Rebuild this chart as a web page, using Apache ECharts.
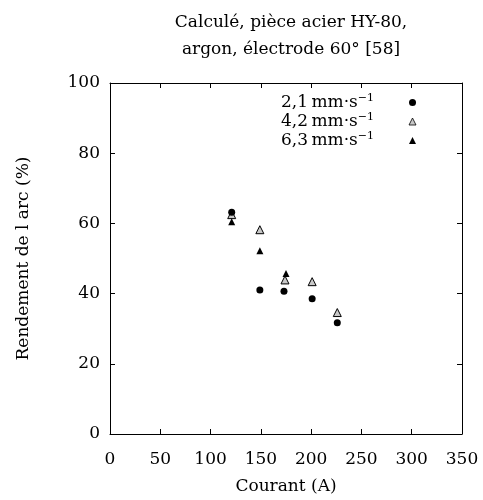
<!DOCTYPE html>
<html>
<head>
<meta charset="utf-8">
<script src="https://cdn.jsdelivr.net/npm/echarts@6/dist/echarts.min.js"></script>
<style>html,body{margin:0;padding:0;background:#fff;}#c{width:483px;height:500px;}</style>
</head>
<body>
<div id="c"></div>
<script>
const titleLines = ['Calculé, pièce acier HY-80,', 'argon, électrode 60° [58]'];
const xLabel = 'Courant (A)';
const yLabel = 'Rendement de l arc (%)';
const seriesNames = ['2,1', '4,2', '6,3'];
const xTicks = [0, 50, 100, 150, 200, 250, 300, 350];
const yTicks = [0, 20, 40, 60, 80, 100];

const s21 = [[121, 63.2], [149, 41.0], [173, 40.7], [201, 38.5], [226, 31.7]];
const s42 = [[121, 62.5], [149, 58.2], [174, 43.9], [201, 43.4], [226, 34.6]];
const s63 = [[121, 60.5], [149, 52.2], [175, 45.7]];

const FONT = 'DejaVu Serif';
const FS = 17;
const chart = echarts.init(document.getElementById('c'));

const axisCommon = {
  axisLine: { show: true, onZero: false, lineStyle: { color: '#000', width: 1 } },
  axisTick: { show: true, inside: true, length: 5, lineStyle: { color: '#000' } },
  splitLine: { show: false }
};

chart.setOption({
  animation: false,
  backgroundColor: '#fff',
  title: {
    text: titleLines.join('\n'),
    left: 286, top: 4, textAlign: 'center',
    textStyle: { fontFamily: FONT, fontWeight: 'normal', fontSize: FS, color: '#000', lineHeight: 27 }
  },
  grid: { left: 110, right: 21, top: 83, bottom: 64, show: false },
  legend: {
    orient: 'vertical', align: 'right',
    left: 276, top: 88,
    itemWidth: 7, itemHeight: 7, itemGap: 1,
    data: [
      { name: seriesNames[0] },
      { name: seriesNames[1], itemStyle: { borderWidth: 0.8 } },
      { name: seriesNames[2] }
    ],
    formatter: n => '{a|' + n + '\u2009mm·s}{s|−1}{g|}',
    textStyle: {
      fontFamily: FONT, color: '#000',
      rich: {
        a: { fontFamily: FONT, fontSize: FS, color: '#000', lineHeight: 19 },
        s: { fontFamily: FONT, fontSize: 11, color: '#000', verticalAlign: 'top', lineHeight: 9 },
        g: { width: 30 }
      }
    }
  },
  xAxis: [
    Object.assign({
      type: 'value', min: 0, max: 350, interval: 50, position: 'bottom',
      name: xLabel, nameLocation: 'middle', nameGap: 44,
      nameTextStyle: { fontFamily: FONT, fontSize: FS, color: '#000' },
      axisLabel: { fontFamily: FONT, fontSize: FS, color: '#000', margin: 17,
        formatter: v => xTicks.includes(v) ? String(v) : '' }
    }, axisCommon),
    Object.assign({
      type: 'value', min: 0, max: 350, interval: 50, position: 'top',
      axisLabel: { show: false }
    }, axisCommon)
  ],
  yAxis: [
    Object.assign({
      type: 'value', min: 0, max: 100, interval: 20, position: 'left',
      name: yLabel, nameLocation: 'middle', nameGap: 78, nameRotate: 90,
      nameTextStyle: { fontFamily: FONT, fontSize: FS, color: '#000' },
      axisLabel: { fontFamily: FONT, fontSize: FS, color: '#000', margin: 10,
        formatter: v => yTicks.includes(v) ? String(v) : '' }
    }, axisCommon),
    Object.assign({
      type: 'value', min: 0, max: 100, interval: 20, position: 'right',
      axisLabel: { show: false }
    }, axisCommon)
  ],
  series: [
    { name: seriesNames[0], type: 'scatter', data: s21, symbol: 'circle', symbolSize: 7, z: 4,
      itemStyle: { color: '#000', opacity: 1 } },
    { name: seriesNames[1], type: 'scatter', data: s42, symbol: 'triangle', symbolSize: 8, z: 3,
      itemStyle: { color: '#c8c8c8', borderColor: '#000', borderWidth: 1, opacity: 1 } },
    { name: seriesNames[2], type: 'scatter', data: s63, symbol: 'triangle', symbolSize: 7, z: 3,
      itemStyle: { color: '#000', opacity: 1 } }
  ]
});
</script>
</body>
</html>
